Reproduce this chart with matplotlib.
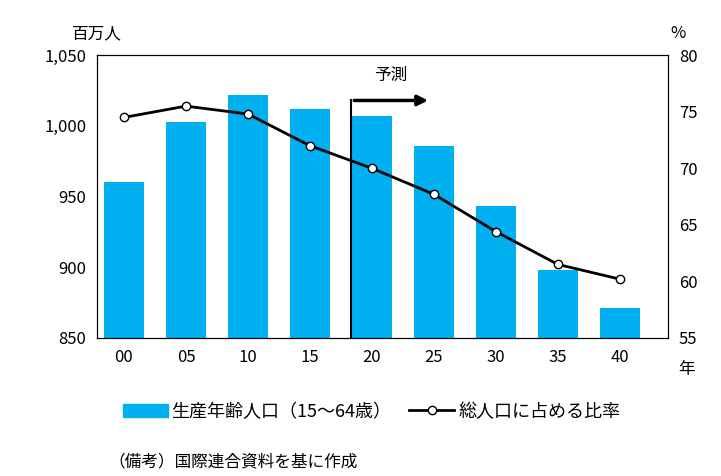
import numpy as np
import matplotlib.pyplot as plt
from matplotlib.patches import Patch
from matplotlib.lines import Line2D

plt.rcParams['font.family'] = ['Noto Sans CJK JP', 'DejaVu Sans']

years = ['00', '05', '10', '15', '20', '25', '30', '35', '40']
working_pop = [960, 1003, 1022, 1012, 1007, 986, 943, 898, 871]
ratio = [74.5, 75.5, 74.8, 72.0, 70.0, 67.7, 64.4, 61.5, 60.2]

fig = plt.figure(figsize=(7.21, 4.76), dpi=100)
ax = fig.add_axes([0.135, 0.29, 0.791, 0.594])
x = np.arange(len(years))
ax.bar(x, working_pop, width=0.65, color='#00b0f0', zorder=2)
ax.set_ylim(850, 1050)
ax.set_yticks(range(850, 1051, 50))
ax.set_yticklabels([f'{v:,}' for v in range(850, 1051, 50)])
ax.set_xlim(-0.43, 8.77)
ax.set_xticks(x)
ax.set_xticklabels(years)
ax.tick_params(labelsize=12, length=0, pad=8)

ax2 = ax.twinx()
ax2.plot(x, ratio, color='black', lw=2, marker='o', ms=6,
         markerfacecolor='white', markeredgecolor='black', zorder=3)
ax2.set_ylim(55, 80)
ax2.set_yticks(range(55, 81, 5))
ax2.tick_params(labelsize=12, length=0, pad=8)

# forecast marker
ax.plot([3.67, 3.67], [850, 1018], color='black', lw=1.5, zorder=4)
ax.annotate('', xy=(4.95, 1018), xytext=(3.67, 1018),
            arrowprops=dict(arrowstyle='-|>', color='black', lw=2.5, mutation_scale=15))
ax.text(4.3, 1036, '予測', fontsize=12, ha='center', va='center')

fig.text(0.135, 0.92, '百万人', fontsize=12, ha='center')
fig.text(0.93, 0.92, '%', fontsize=12, ha='left')
fig.text(0.94, 0.215, '年', fontsize=12, ha='left')

handles = [Patch(color='#00b0f0'),
           Line2D([0], [0], color='black', lw=2, marker='o', ms=6,
                  markerfacecolor='white')]
fig.legend(handles, ['生産年齢人口（15～64歳）', '総人口に占める比率'],
           loc='center', bbox_to_anchor=(0.515, 0.135), ncol=2, frameon=False,
           fontsize=13, handlelength=2.5, columnspacing=1.0, handletextpad=0.2)
fig.text(0.15, 0.02, '（備考）国際連合資料を基に作成', fontsize=12)

fig.savefig('out.png')
